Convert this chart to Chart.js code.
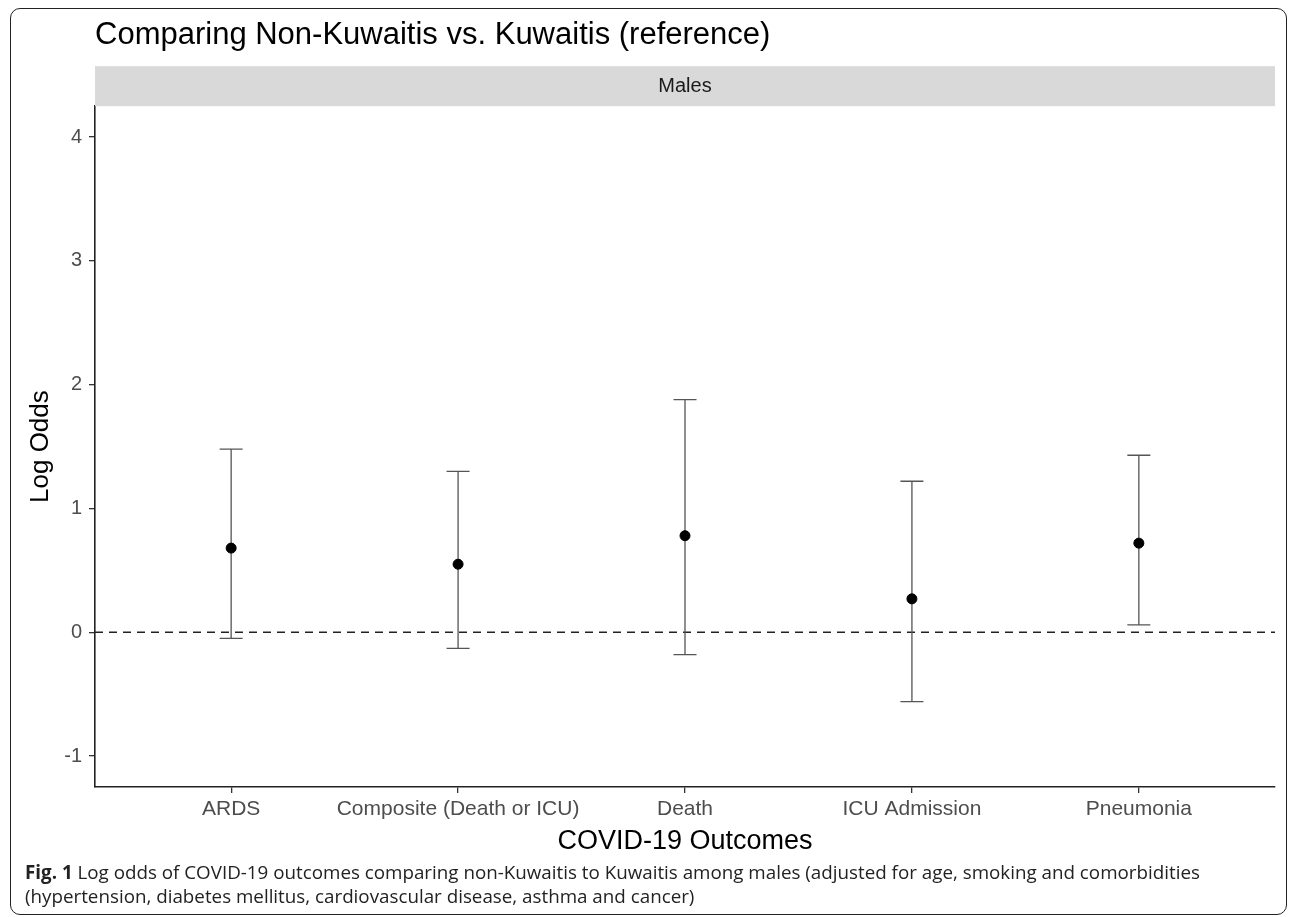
<!DOCTYPE html>
<html>
<head>
<meta charset="utf-8">
<script src="https://cdn.jsdelivr.net/npm/chart.js@4"></script>
<style>
  html, body { margin: 0; padding: 0; background: #fff; }
  #wrap { position: relative; width: 1290px; height: 917px; overflow: hidden; }
  #frame {
    position: absolute; left: 10px; top: 8px; width: 1277px; height: 907px;
    border: 1.5px solid #222; border-radius: 10px; box-sizing: border-box;
  }
  #chart { position: absolute; left: 0; top: 0; }
  #caption {
    position: absolute; left: 25px; top: 860px; white-space: nowrap;
    font-family: "Open Sans", sans-serif; font-size: 18.8px; line-height: 24px; color: #222;
  }
  #caption b { font-weight: 700; }
</style>
</head>
<body>
<div id="wrap">
  <div id="frame"></div>
  <canvas id="chart" width="1290" height="870"></canvas>
  <div id="caption"><b>Fig. 1</b> Log odds of COVID-19 outcomes comparing non-Kuwaitis to Kuwaitis among males (adjusted for age, smoking and comorbidities<br>(hypertension, diabetes mellitus, cardiovascular disease, asthma and cancer)</div>
</div>
<script>
const outcomes = ["ARDS", "Composite (Death or ICU)", "Death", "ICU Admission", "Pneumonia"];
const logOdds = [0.68, 0.55, 0.78, 0.27, 0.72];
const lowerCI = [-0.05, -0.13, -0.18, -0.56, 0.06];
const upperCI = [1.48, 1.30, 1.88, 1.22, 1.43];
const yTicks = [-1, 0, 1, 2, 3, 4];
const facetLabel = "Males";

const FONT = "'Liberation Sans', Arial, sans-serif";

// facet strip + zero line + error bars
const extras = {
  id: "extras",
  beforeDatasetsDraw(chart) {
    const { ctx, chartArea: a, scales: { x, y } } = chart;
    ctx.save();
    ctx.fillStyle = "#d9d9d9";
    ctx.fillRect(a.left, a.top - 40, a.right - a.left, 40);
    ctx.fillStyle = "#1a1a1a";
    ctx.font = "20px " + FONT;
    ctx.textAlign = "center";
    ctx.textBaseline = "middle";
    ctx.fillText(facetLabel, (a.left + a.right) / 2, a.top - 20);

    const y0 = y.getPixelForValue(0);
    ctx.strokeStyle = "#222";
    ctx.lineWidth = 1.5;
    ctx.setLineDash([8, 6]);
    ctx.beginPath();
    ctx.moveTo(a.left, y0);
    ctx.lineTo(a.right, y0);
    ctx.stroke();
    ctx.setLineDash([]);

    ctx.strokeStyle = "#555";
    ctx.lineWidth = 1.3;
    outcomes.forEach((o, i) => {
      const px = x.getPixelForValue(i);
      const lo = y.getPixelForValue(lowerCI[i]);
      const hi = y.getPixelForValue(upperCI[i]);
      ctx.beginPath();
      ctx.moveTo(px, lo); ctx.lineTo(px, hi);
      ctx.moveTo(px - 11.5, lo); ctx.lineTo(px + 11.5, lo);
      ctx.moveTo(px - 11.5, hi); ctx.lineTo(px + 11.5, hi);
      ctx.stroke();
    });
    ctx.restore();
  }
};

new Chart(document.getElementById("chart"), {
  type: "scatter",
  data: {
    datasets: [{
      data: logOdds.map((v, i) => ({ x: i, y: v })),
      backgroundColor: "#000",
      borderColor: "#000",
      pointRadius: 5,
      pointHoverRadius: 5
    }]
  },
  options: {
    responsive: false,
    animation: false,
    layout: { padding: { left: 0, right: 15, top: 0, bottom: 0 } },
    plugins: {
      legend: { display: false },
      tooltip: { enabled: false },
      title: {
        display: true,
        text: "Comparing Non-Kuwaitis vs. Kuwaitis (reference)",
        align: "start",
        fullSize: false,
        color: "#000",
        font: { family: FONT, size: 31, weight: "normal" },
        padding: { top: 17, bottom: 52 }
      }
    },
    scales: {
      x: {
        type: "linear",
        min: -0.6,
        max: outcomes.length - 0.4,
        afterBuildTicks: s => { s.ticks = outcomes.map((o, i) => ({ value: i })); },
        afterFit: s => { s.height = 83; },
        ticks: {
          callback: v => outcomes[v],
          color: "#4d4d4d",
          font: { family: FONT, size: 21 },
          padding: 4,
          maxRotation: 0,
          autoSkip: false
        },
        grid: { drawOnChartArea: false, drawTicks: true, tickLength: 6, color: "#333", lineWidth: 1.3 },
        border: { display: true, color: "#222", width: 1.6 },
        title: {
          display: true,
          text: "COVID-19 Outcomes",
          color: "#000",
          font: { family: FONT, size: 27 },
          padding: { top: 0, bottom: 12 }
        }
      },
      y: {
        min: -1.25,
        max: 4.25,
        afterBuildTicks: s => { s.ticks = yTicks.map(v => ({ value: v })); },
        afterFit: s => { s.width = 95; },
        ticks: {
          color: "#4d4d4d",
          font: { family: FONT, size: 20 },
          padding: 7
        },
        grid: { drawOnChartArea: false, drawTicks: true, tickLength: 6, color: "#333", lineWidth: 1.3 },
        border: { display: true, color: "#222", width: 1.6 },
        title: {
          display: true,
          text: "Log Odds",
          color: "#000",
          font: { family: FONT, size: 26 },
          padding: { top: 25, bottom: 0 }
        }
      }
    }
  },
  plugins: [extras]
});
</script>
</body>
</html>
